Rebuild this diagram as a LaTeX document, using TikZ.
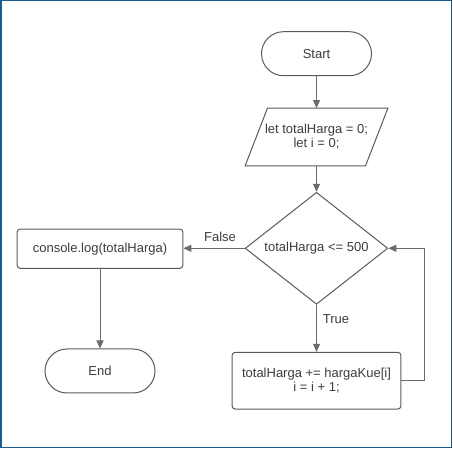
\documentclass[tikz,border=0pt]{standalone}
\usepackage{fontspec}
\setmainfont{Liberation Sans}
\usetikzlibrary{shapes.geometric,arrows.meta,calc}
\definecolor{outline}{HTML}{5A5A5A}
\definecolor{wire}{HTML}{6B6B6B}
\definecolor{label}{HTML}{3C3C3C}
\definecolor{frame}{HTML}{1D5A8C}
\begin{document}
\begin{tikzpicture}[x=1pt,y=-1pt,
  font=\fontsize{13}{14}\selectfont,
  every node/.style={text=label},
  terminal/.style={draw=outline, line width=1pt, rounded corners=22pt,
    minimum width=110pt, minimum height=44pt, inner sep=0pt},
  procbox/.style={draw=outline, line width=1pt, rounded corners=3pt,
    inner sep=0pt, align=center},
  decision/.style={diamond, draw=outline, line width=1pt, aspect=1.27,
    minimum width=142.7pt, minimum height=112pt, inner sep=0pt},
  shapeline/.style={draw=outline, line width=1pt, line join=miter},
  flow/.style={draw=wire, line width=1pt, -{Triangle[length=8pt,width=7pt]}}
]
% page and frame
\useasboundingbox (0,0) rectangle (453,449);
\draw[frame, line width=1.6pt] (0.8,0.5) rectangle (451.4,447.4);

% nodes
\node[terminal] (start) at (316.5,53.7) {Start};
\node[inner sep=0pt, minimum width=120pt, minimum height=57.4pt, align=center]
  (init) at (316.5,137) {let totalHarga = 0;\\let i = 0;};
\draw[shapeline] ($(init.north west)+(11.2,0)$) -- ($(init.north east)+(11.2,0)$)
  -- ($(init.south east)+(-11.2,0)$) -- ($(init.south west)+(-11.2,0)$) -- cycle;
\node[decision] (cond) at (316.5,248.3) {totalHarga <= 500};
\node[procbox, minimum width=165.7pt, minimum height=39.3pt]
  (out) at (100,248.7) {console.log(totalHarga)};
\node[terminal] (end) at (100,371) {End};
\node[procbox, minimum width=168.7pt, minimum height=56.7pt]
  (step) at (316.5,380.7) {totalHarga += hargaKue[i]\\i = i + 1;};

% connectors
\draw[flow] (start.south) -- (init.north);
\draw[flow] (init.south) -- (cond.north);
\draw[flow] (cond.west) -- (cond.west -| out.east);
\draw[flow] (out.south) -- (end.north);
\draw[flow] (cond.south) -- (step.north);
\draw[flow] (step.east) -- ++(23,0) |- (cond.east);

% branch labels
\node (flab) at (220,237) {False};
\node[anchor=west, inner sep=0pt] (tlab) at (322.7,319.3) {True};
\end{tikzpicture}
\end{document}
